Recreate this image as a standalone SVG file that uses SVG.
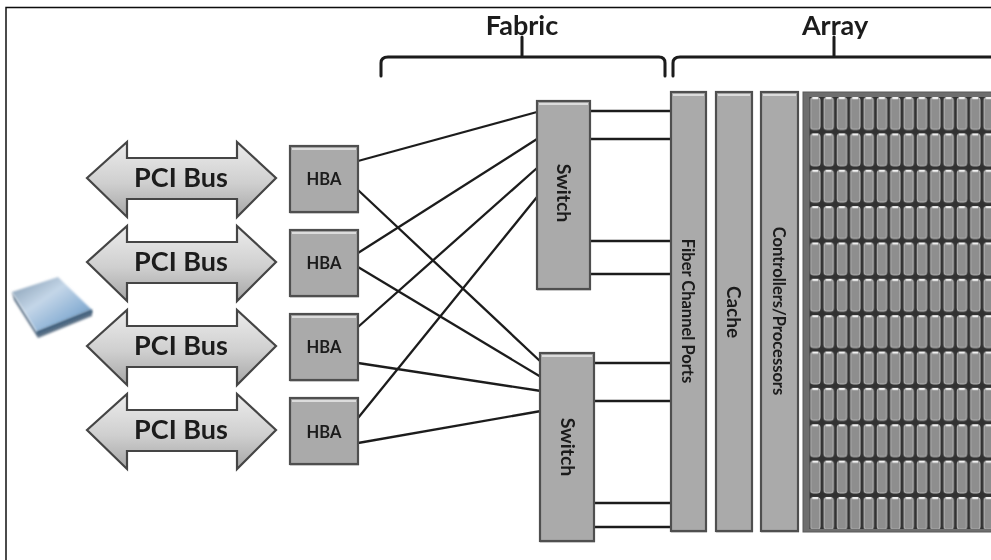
<svg xmlns="http://www.w3.org/2000/svg" width="991" height="560" viewBox="0 0 991 560">
<style>
text{font-family:"Lato","Liberation Sans",sans-serif;font-weight:700;fill:#1a1a1a;text-anchor:middle}
.box{fill:#aaaaaa;stroke:#505050;stroke-width:2.200}
.hl{stroke:#dcdcdc;stroke-width:2;fill:none}
.shade{fill:#000;opacity:.18}
.bus{fill:url(#busGrad);stroke:#454545;stroke-width:2.200;stroke-linejoin:miter}
.pci{font-size:27px}
.hba{font-size:16.500px}
.sw{font-size:19.500px}
.rot{font-size:16.500px}
.title{font-size:27px}
.wire{stroke:#1f1f1f;stroke-width:2.300;fill:none}
.brace{stroke:#1a1a1a;stroke-width:3;fill:none;stroke-linecap:round}
</style>
<defs>
<linearGradient id="busGrad" x1="0" y1="0" x2="0" y2="1"><stop offset="0" stop-color="#ececec"/><stop offset=".55" stop-color="#cfcfcf"/><stop offset="1" stop-color="#a6a6a6"/></linearGradient>
<linearGradient id="devTop" x1="0" y1="0" x2="1" y2="1"><stop offset="0" stop-color="#7f97ad"/><stop offset=".4" stop-color="#c4d6e8"/><stop offset=".7" stop-color="#8fb3d6"/><stop offset="1" stop-color="#5f86aa"/></linearGradient>
<filter id="soft" x="-2%" y="-2%" width="104%" height="104%"><feGaussianBlur stdDeviation="0.55"/></filter>
<filter id="softer" x="-20%" y="-20%" width="140%" height="140%"><feGaussianBlur stdDeviation="1.300"/></filter>
<pattern id="drives" x="809.500" y="97" width="13.330" height="36.360" patternUnits="userSpaceOnUse">
<rect width="13.330" height="36.360" fill="#333"/>
<rect x="1.200" y="0.500" width="9.300" height="32" rx="3" fill="#8e8e8e" stroke="#bdbdbd" stroke-width="1"/>
<rect x="3" y="0" width="5.500" height="2.200" fill="#f0f0f0"/>
</pattern>
</defs>
<rect width="991" height="560" fill="#fff"/>
<g filter="url(#soft)">
<path d="M6 560V7.500H991" fill="none" stroke="#111" stroke-width="1.500"/>

<g id="device">
<path d="M12 292L37 332L92 310V316L38 338L14 300Z" fill="#5f7388" filter="url(#softer)"/>
<path d="M12 292L58 277L92 310L37 332Z" fill="url(#devTop)" filter="url(#softer)"/>
<path d="M37 333L92 311" stroke="#3f5f7c" stroke-width="3" filter="url(#softer)"/>
</g>

<g id="connectors">
<path class="wire" d="M358 161L537 112M358 253L537 139M358 327L537 168M358 418L537 197"/>
<path class="wire" d="M358 190L541 362M358 267L541 377M358 363L541 391M358 443L541 411"/>
<path class="wire" d="M590 111H671M590 139H671M590 241H671M590 274H671"/>
<path class="wire" d="M594 363H671M594 401H671M594 503H671M594 527H671"/>
</g>

<g id="fabric-label">
<path class="brace" d="M381 76V63Q381 57 388 57H659Q665 57 665 63V76M522 57V37"/>
<text class="title" x="522" y="35">Fabric</text>
</g>
<g id="array-label">
<path class="brace" d="M673 76V63Q673 57 680 57H991M834 57V37"/>
<text class="title" x="835" y="35">Array</text>
</g>

<g id="pci1"><path class="bus" d="M87 178L127 142V158H237V142L276 178L237 217V199H127V217Z"/><text class="pci" x="181" y="187">PCI Bus</text></g>
<g id="pci2"><path class="bus" d="M87 262L127 226V242H237V226L276 262L237 301V283H127V301Z"/><text class="pci" x="181" y="271">PCI Bus</text></g>
<g id="pci3"><path class="bus" d="M87 346L127 310V326H237V310L276 346L237 385V367H127V385Z"/><text class="pci" x="181" y="355">PCI Bus</text></g>
<g id="pci4"><path class="bus" d="M87 430L127 394V410H237V394L276 430L237 469V451H127V469Z"/><text class="pci" x="181" y="439">PCI Bus</text></g>

<g id="hba1"><rect class="shade" x="290" y="148" width="69" height="66"/><rect class="box" x="290" y="146" width="68" height="66"/><path class="hl" d="M292 149H356"/><text class="hba" x="324" y="185">HBA</text></g>
<g id="hba2"><rect class="shade" x="290" y="232" width="69" height="66"/><rect class="box" x="290" y="230" width="68" height="66"/><path class="hl" d="M292 233H356"/><text class="hba" x="324" y="269">HBA</text></g>
<g id="hba3"><rect class="shade" x="290" y="316" width="69" height="66"/><rect class="box" x="290" y="314" width="68" height="66"/><path class="hl" d="M292 317H356"/><text class="hba" x="324" y="353">HBA</text></g>
<g id="hba4"><rect class="shade" x="290" y="400" width="69" height="66"/><rect class="box" x="290" y="398" width="68" height="66"/><path class="hl" d="M292 401H356"/><text class="hba" x="324" y="438">HBA</text></g>

<g id="switch1"><rect class="shade" x="537" y="103" width="54" height="188"/><rect class="box" x="537" y="101" width="53" height="188"/><path class="hl" d="M539 104H588"/><text class="sw" transform="translate(557 193) rotate(90)">Switch</text></g>
<g id="switch2"><rect class="shade" x="540" y="355" width="55" height="188"/><rect class="box" x="540" y="353" width="54" height="188"/><path class="hl" d="M542 356H592"/><text class="sw" transform="translate(561 447) rotate(90)">Switch</text></g>

<g id="fiber-ports"><rect class="shade" x="671" y="94" width="36" height="439"/><rect class="box" x="671" y="92" width="35" height="439"/><path class="hl" d="M673 95H704"/><text class="rot" transform="translate(682 311) rotate(90)">Fiber Channel Ports</text></g>
<g id="cache"><rect class="shade" x="716" y="94" width="37" height="439"/><rect class="box" x="716" y="92" width="36" height="439"/><path class="hl" d="M718 95H750"/><text class="rot" style="font-size:19px" transform="translate(727 312) rotate(90)">Cache</text></g>
<g id="controllers"><rect class="shade" x="761" y="94" width="38" height="439"/><rect class="box" x="761" y="92" width="37" height="439"/><path class="hl" d="M763 95H796"/><text class="rot" transform="translate(773 311) rotate(90)">Controllers/Processors</text></g>

<g id="drive-array">
<rect x="803" y="92" width="190" height="440" fill="#6e6e6e" stroke="#5a5a5a" stroke-width="1"/>
<rect x="809.500" y="97" width="182" height="432" fill="url(#drives)"/>
</g>
</g>
</svg>
